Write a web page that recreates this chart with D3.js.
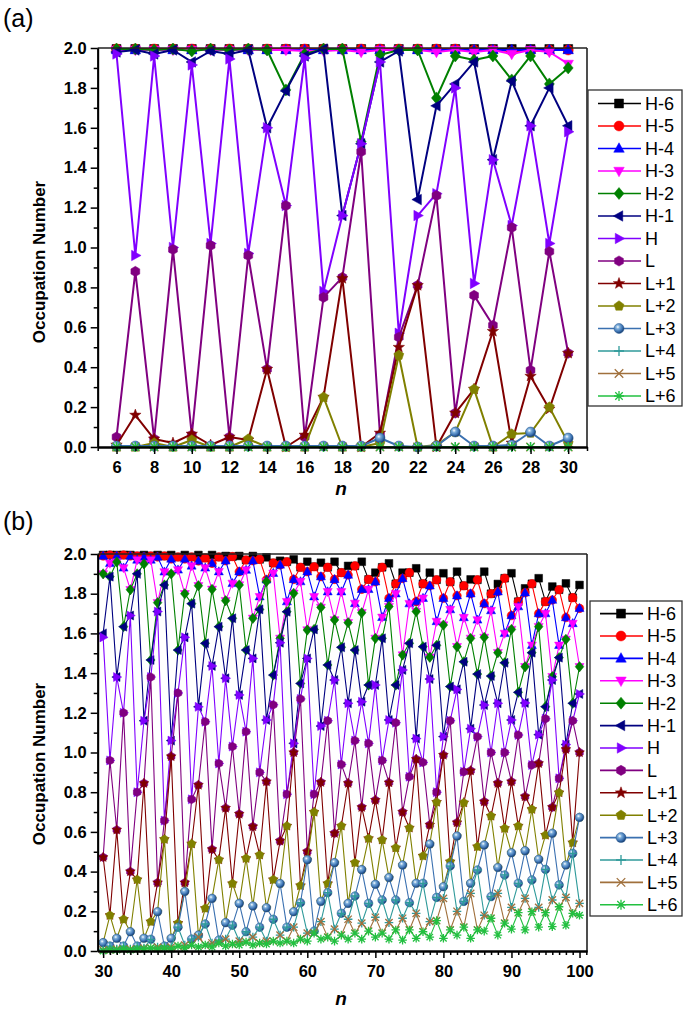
<!DOCTYPE html>
<html><head><meta charset="utf-8">
<script src="https://cdn.jsdelivr.net/npm/d3@7"></script>
<style>body{margin:0;background:#fff}svg text{font-family:Arial,"Liberation Sans",sans-serif}</style>
</head><body>
<script>
const seriesNames=["H-6","H-5","H-4","H-3","H-2","H-1","H","L","L+1","L+2","L+3","L+4","L+5","L+6"];
const seriesColors=["#000000","#ff0000","#0000ff","#ff00ff","#008000","#000080","#8000ff","#800080","#800000","#808000","#3a70b0","#2f9a9a","#a0703c","#22c040"];
const seriesShapes=["square","circle","triUp","triDown","diamond","triLeft","triRight","hexagon","star","pentagon","sphere","plus","cross","asterisk"];

// ---------- panel (a) ----------
const nA=[6,7,8,9,10,11,12,13,14,15,16,17,18,19,20,21,22,23,24,25,26,27,28,29,30];
const xTicksA=[6,8,10,12,14,16,18,20,22,24,26,28,30];
const yTicks=[0,0.2,0.4,0.6,0.8,1.0,1.2,1.4,1.6,1.8,2.0];
const a_H6=[1.995,1.995,1.995,1.995,1.995,1.995,1.995,1.995,1.995,1.995,1.995,1.995,1.995,1.995,1.995,1.995,1.995,1.995,1.995,1.995,1.995,1.995,1.995,1.995,1.995];
const a_H5=[1.995,1.995,1.995,1.995,1.995,1.995,1.995,1.995,1.995,1.995,1.995,1.995,1.995,1.995,1.995,1.995,1.995,1.995,1.995,1.99,1.99,1.985,1.985,1.99,1.99];
const a_H4=[1.99,1.99,1.99,1.99,1.99,1.99,1.99,1.99,1.99,1.99,1.99,1.99,1.99,1.99,1.99,1.99,1.99,1.99,1.99,1.99,1.99,1.99,1.99,1.99,1.99];
const a_H3=[1.99,1.99,1.99,1.99,1.99,1.99,1.99,1.99,1.99,1.99,1.985,1.985,1.99,1.98,1.99,1.99,1.99,1.98,1.99,1.98,1.99,1.97,1.99,1.98,1.92];
const a_H2=[1.995,1.995,1.99,1.995,1.985,1.995,1.99,1.995,1.99,1.79,1.97,1.995,1.995,1.53,1.965,1.99,1.99,1.75,1.96,1.94,1.96,1.84,1.96,1.82,1.90];
const a_H1=[1.98,1.99,1.97,1.99,1.93,1.985,1.97,1.99,1.60,1.785,1.96,1.995,1.16,1.52,1.93,1.985,1.24,1.71,1.82,1.93,1.44,1.835,1.61,1.80,1.61];
const a_H=[1.97,0.96,1.96,1.0,1.915,1.02,1.945,0.97,1.60,1.21,1.95,0.78,1.16,1.52,1.93,0.57,1.16,1.27,1.80,0.82,1.44,1.11,1.61,1.02,1.58];
const a_L=[0.05,0.88,0.04,0.99,0.06,1.01,0.05,0.96,0.39,1.21,0.05,0.75,0.85,1.48,0.06,0.55,0.81,1.26,0.17,0.76,0.61,1.10,0.385,0.98,0.47];
const a_L1=[0.01,0.16,0.04,0.02,0.065,0.01,0.05,0.035,0.39,0.0,0.06,0.25,0.845,0.0,0.07,0.50,0.81,0.0,0.17,0.29,0.58,0.02,0.355,0.19,0.47];
const a_L2=[0.0,0.0,0.02,0.0,0.035,0.0,0.0,0.04,0.0,0.0,0.0,0.25,0.0,0.0,0.02,0.46,0.0,0.01,0.075,0.29,0.0,0.065,0.07,0.20,0.02];
const a_L3=[0.005,0.005,0.005,0.005,0.005,0.005,0.005,0.005,0.005,0.005,0.005,0.005,0.005,0.005,0.045,0.005,0.0,0.005,0.075,0.005,0.005,0.01,0.075,0.005,0.045];
const a_L4=[0,0,0,0,0,0,0,0,0,0,0,0,0,0,0,0,0,0,0,0,0,0,0,0,0];
const a_L5=[0,0,0,0,0,0,0,0,0,0,0,0,0,0,0,0,0,0,0,0,0,0,0,0,0];
const a_L6=[0,0,0,0,0,0,0,0,0,0,0,0,0,0,0,0,0,0,0,0,0,0,0,0,0];

// ---------- panel (b) ----------
const nB=[30,31,32,33,34,35,36,37,38,39,40,41,42,43,44,45,46,47,48,49,50,51,52,53,54,55,56,57,58,59,60,61,62,63,64,65,66,67,68,69,70,71,72,73,74,75,76,77,78,79,80,81,82,83,84,85,86,87,88,89,90,91,92,93,94,95,96,97,98,99,100];
const xTicksB=[30,40,50,60,70,80,90,100];
const b_H6=[1.995,1.995,1.995,1.995,1.995,1.99,1.995,1.99,1.995,1.99,
1.995,1.985,1.995,1.985,1.995,1.98,1.995,1.985,1.99,1.987,
1.99,1.97,1.99,1.973,1.983,1.955,1.966,1.961,1.973,1.933,
1.961,1.936,1.956,1.933,1.961,1.906,1.94,1.94,1.961,1.872,
1.906,1.933,1.953,1.85,1.906,1.906,1.928,1.85,1.906,1.87,
1.903,1.86,1.911,1.84,1.872,1.87,1.911,1.80,1.849,1.878,
1.903,1.76,1.827,1.85,1.878,1.76,1.836,1.82,1.852,1.78,1.844];
const b_H5=[1.99,1.995,1.99,1.995,1.99,1.99,1.985,1.99,1.985,1.99,
1.975,1.985,1.975,1.985,1.965,1.98,1.953,1.985,1.966,1.987,
1.911,1.97,1.966,1.973,1.87,1.955,1.945,1.961,1.872,1.933,
1.911,1.936,1.886,1.933,1.872,1.906,1.894,1.94,1.822,1.872,
1.86,1.933,1.777,1.85,1.877,1.906,1.76,1.85,1.84,1.87,
1.777,1.86,1.79,1.84,1.80,1.87,1.75,1.80,1.81,1.878,
1.69,1.76,1.805,1.85,1.70,1.76,1.768,1.82,1.68,1.78,1.726];
const b_H4=[1.99,1.953,1.99,1.93,1.99,1.97,1.985,1.97,1.985,1.91,
1.975,1.92,1.975,1.94,1.965,1.93,1.953,1.911,1.966,1.852,
1.911,1.919,1.966,1.785,1.87,1.903,1.945,1.76,1.872,1.861,
1.911,1.785,1.886,1.81,1.872,1.81,1.894,1.751,1.822,1.822,
1.86,1.681,1.777,1.80,1.877,1.75,1.76,1.777,1.84,1.66,
1.777,1.72,1.79,1.68,1.80,1.668,1.75,1.715,1.81,1.60,
1.69,1.735,1.805,1.54,1.70,1.70,1.768,1.54,1.68,1.65,1.726];
const b_H3=[1.90,1.953,1.96,1.93,1.82,1.97,1.95,1.97,1.755,1.91,
1.90,1.92,1.80,1.94,1.84,1.93,1.822,1.911,1.765,1.852,
1.844,1.919,1.676,1.785,1.861,1.903,1.575,1.76,1.802,1.861,
1.617,1.785,1.731,1.81,1.668,1.81,1.654,1.751,1.704,1.822,
1.575,1.681,1.735,1.80,1.491,1.75,1.71,1.777,1.48,1.66,
1.642,1.72,1.533,1.68,1.575,1.668,1.58,1.715,1.503,1.60,
1.62,1.735,1.432,1.54,1.634,1.70,1.382,1.54,1.57,1.65,1.432];
const b_H2=[1.90,1.886,1.96,1.634,1.82,1.90,1.95,1.466,1.755,1.844,
1.90,1.516,1.80,1.75,1.84,1.55,1.822,1.634,1.765,1.676,
1.844,1.516,1.676,1.721,1.861,1.39,1.575,1.709,1.802,1.348,
1.617,1.62,1.731,1.441,1.668,1.53,1.654,1.516,1.704,1.34,
1.575,1.575,1.735,1.34,1.491,1.55,1.71,1.533,1.48,1.54,
1.642,1.332,1.533,1.457,1.575,1.395,1.58,1.385,1.503,1.452,
1.62,1.303,1.432,1.503,1.634,1.231,1.382,1.478,1.57,1.248,1.432];
const b_H1=[1.60,1.886,1.38,1.634,1.69,1.90,1.16,1.466,1.71,1.844,
1.06,1.516,1.58,1.75,1.23,1.55,1.436,1.634,1.374,1.676,
1.29,1.516,1.474,1.721,1.164,1.39,1.553,1.709,1.046,1.348,
1.474,1.62,1.133,1.441,1.365,1.53,1.248,1.516,1.256,1.34,
1.34,1.575,1.164,1.34,1.416,1.55,1.07,1.533,1.37,1.54,
1.08,1.332,1.318,1.457,1.12,1.395,1.239,1.385,1.248,1.452,
1.164,1.303,1.25,1.503,1.09,1.231,1.365,1.478,1.04,1.248,1.295];
const b_H=[1.58,0.96,1.38,1.20,1.69,0.80,1.16,1.38,1.71,0.657,
1.06,1.30,1.58,0.764,1.23,1.155,1.436,0.945,1.374,1.03,
1.29,1.105,1.474,0.90,1.164,1.24,1.553,0.79,1.046,1.27,
1.474,0.79,1.133,1.16,1.365,0.94,1.248,1.06,1.256,1.046,
1.34,0.96,1.164,1.15,1.416,0.878,1.07,0.95,1.37,0.80,
1.08,1.16,1.318,0.903,1.12,1.08,1.239,1.0,1.248,1.0,
1.164,1.088,1.25,0.937,1.09,1.17,1.365,0.87,1.04,1.16,1.295];
const b_L=[0.472,0.96,0.61,1.20,0.40,0.80,0.845,1.38,0.344,0.657,
0.98,1.30,0.344,0.764,0.836,1.155,0.512,0.945,0.72,1.03,
0.69,1.105,0.627,0.90,0.853,1.24,0.554,0.79,1.0,1.27,
0.50,0.79,0.85,1.16,0.593,0.94,0.845,1.06,0.724,1.046,
0.76,0.96,0.848,1.15,0.70,0.878,0.966,0.95,0.635,0.80,
0.987,1.16,0.647,0.903,0.908,1.08,0.752,1.0,0.845,1.0,
0.853,1.088,0.778,0.937,0.945,1.17,0.724,0.87,1.016,1.16,1.0];
const b_L1=[0.472,0.18,0.61,0.16,0.40,0.36,0.845,0.148,0.344,0.563,
0.98,0.14,0.344,0.54,0.836,0.215,0.512,0.46,0.72,0.34,
0.69,0.467,0.627,0.484,0.853,0.36,0.554,0.63,1.0,0.33,
0.50,0.70,0.85,0.34,0.593,0.63,0.845,0.445,0.724,0.567,
0.76,0.56,0.848,0.52,0.70,0.62,0.966,0.479,0.635,0.75,
0.987,0.45,0.647,0.747,0.908,0.526,0.752,0.68,0.845,0.618,
0.853,0.63,0.778,0.714,0.945,0.584,0.724,0.798,1.016,0.546,1.0];
const b_L2=[0.042,0.18,0.064,0.16,0.097,0.36,0.064,0.148,0.198,0.563,
0.064,0.14,0.30,0.54,0.08,0.215,0.265,0.46,0.143,0.34,
0.24,0.467,0.227,0.484,0.218,0.36,0.34,0.63,0.198,0.33,
0.46,0.70,0.25,0.34,0.445,0.63,0.24,0.445,0.41,0.567,
0.336,0.56,0.37,0.52,0.433,0.62,0.341,0.479,0.539,0.75,
0.324,0.45,0.579,0.747,0.341,0.526,0.534,0.68,0.421,0.618,
0.495,0.63,0.505,0.714,0.462,0.584,0.593,0.798,0.433,0.546,0.673];
const b_L3=[0.042,0.025,0.064,0.025,0.097,0.025,0.064,0.059,0.198,0.025,
0.064,0.12,0.30,0.06,0.08,0.136,0.265,0.055,0.143,0.13,
0.24,0.097,0.227,0.12,0.218,0.16,0.34,0.12,0.198,0.243,
0.46,0.10,0.25,0.294,0.445,0.19,0.24,0.277,0.41,0.24,
0.336,0.257,0.37,0.257,0.433,0.243,0.341,0.341,0.539,0.27,
0.324,0.428,0.579,0.25,0.341,0.408,0.534,0.274,0.421,0.383,
0.495,0.341,0.505,0.358,0.462,0.411,0.593,0.333,0.433,0.492,0.673];
const b_L4=[0.005,0.025,0.01,0.025,0.01,0.025,0.015,0.059,0.02,0.025,
0.02,0.12,0.03,0.06,0.07,0.136,0.04,0.055,0.06,0.13,
0.05,0.097,0.07,0.12,0.05,0.16,0.08,0.12,0.12,0.243,
0.09,0.10,0.148,0.294,0.11,0.19,0.16,0.277,0.14,0.24,
0.17,0.257,0.143,0.257,0.165,0.243,0.19,0.341,0.148,0.27,
0.265,0.428,0.20,0.25,0.29,0.408,0.18,0.274,0.29,0.383,
0.22,0.341,0.265,0.358,0.22,0.411,0.257,0.333,0.27,0.492,0.24];
const b_L5=[0.005,0.005,0.01,0.01,0.01,0.01,0.015,0.015,0.02,0.015,
0.02,0.025,0.03,0.03,0.07,0.03,0.04,0.04,0.06,0.035,
0.05,0.045,0.07,0.04,0.05,0.05,0.08,0.05,0.12,0.06,
0.09,0.09,0.148,0.07,0.11,0.08,0.16,0.09,0.14,0.10,
0.17,0.09,0.143,0.106,0.165,0.106,0.19,0.097,0.148,0.153,
0.265,0.106,0.20,0.12,0.29,0.106,0.18,0.165,0.29,0.14,
0.22,0.193,0.265,0.198,0.22,0.193,0.257,0.223,0.27,0.19,0.24];
const b_L6=[0.0,0.005,0.005,0.01,0.005,0.01,0.01,0.015,0.01,0.015,
0.01,0.025,0.015,0.03,0.02,0.03,0.02,0.04,0.025,0.035,
0.03,0.045,0.03,0.04,0.035,0.05,0.04,0.05,0.04,0.06,
0.05,0.09,0.06,0.07,0.05,0.08,0.06,0.09,0.06,0.10,
0.07,0.09,0.06,0.106,0.055,0.106,0.064,0.097,0.07,0.153,
0.064,0.106,0.08,0.12,0.064,0.106,0.10,0.165,0.08,0.14,
0.11,0.193,0.106,0.198,0.12,0.193,0.123,0.223,0.13,0.19,0.18];

const seriesA=[a_H6,a_H5,a_H4,a_H3,a_H2,a_H1,a_H,a_L,a_L1,a_L2,a_L3,a_L4,a_L5,a_L6];
const seriesB=[b_H6,b_H5,b_H4,b_H3,b_H2,b_H1,b_H,b_L,b_L1,b_L2,b_L3,b_L4,b_L5,b_L6];

const W=685,H=1012;
const svg=d3.select("body").append("svg").attr("width",W).attr("height",H);
const defs=svg.append("defs");
const g0=defs.append("radialGradient").attr("id","sph").attr("cx","38%").attr("cy","35%").attr("r","62%");
g0.append("stop").attr("offset","0%").attr("stop-color","#ffffff");
g0.append("stop").attr("offset","30%").attr("stop-color","#7fb0dc");
g0.append("stop").attr("offset","75%").attr("stop-color","#3a70b0");
g0.append("stop").attr("offset","100%").attr("stop-color","#1c4478");

function poly(pts){return "M"+pts.map(p=>p[0].toFixed(2)+","+p[1].toFixed(2)).join("L")+"Z";}
function shapePath(t,r){
  switch(t){
    case "square": return poly([[-r*0.9,-r*0.9],[r*0.9,-r*0.9],[r*0.9,r*0.9],[-r*0.9,r*0.9]]);
    case "circle": case "sphere": return `M${r},0A${r},${r} 0 1,1 ${-r},0A${r},${r} 0 1,1 ${r},0Z`;
    case "triUp": return poly([[0,-r*1.15],[r*1.05,r*0.75],[-r*1.05,r*0.75]]);
    case "triDown": return poly([[0,r*1.15],[r*1.05,-r*0.75],[-r*1.05,-r*0.75]]);
    case "triLeft": return poly([[-r*1.15,0],[r*0.75,-r*1.05],[r*0.75,r*1.05]]);
    case "triRight": return poly([[r*1.15,0],[-r*0.75,-r*1.05],[-r*0.75,r*1.05]]);
    case "diamond": return poly([[0,-r*1.2],[r*1.0,0],[0,r*1.2],[-r*1.0,0]]);
    case "hexagon": { const p=[]; for(let i=0;i<6;i++){const a=Math.PI/6+i*Math.PI/3;p.push([r*1.02*Math.cos(a),r*1.02*Math.sin(a)]);} return poly(p);}
    case "pentagon": { const p=[]; for(let i=0;i<5;i++){const a=-Math.PI/2+i*2*Math.PI/5;p.push([r*1.05*Math.cos(a),r*1.05*Math.sin(a)]);} return poly(p);}
    case "star": { const p=[]; for(let i=0;i<10;i++){const a=-Math.PI/2+i*Math.PI/5;const rr=i%2?r*0.5:r*1.2;p.push([rr*Math.cos(a),rr*Math.sin(a)]);} return poly(p);}
    case "plus": return `M0,${-r}V${r}M${-r},0H${r}`;
    case "cross": return `M${-r*0.85},${-r*0.85}L${r*0.85},${r*0.85}M${-r*0.85},${r*0.85}L${r*0.85},${-r*0.85}`;
    case "asterisk": return `M0,${-r}V${r}M${-r},0H${r}M${-r*0.75},${-r*0.75}L${r*0.75},${r*0.75}M${-r*0.75},${r*0.75}L${r*0.75},${-r*0.75}`;
  }
}
const strokeOnly=new Set(["plus","cross","asterisk"]);
function drawMarker(g,t,color,x,y,r){
  const p=g.append("path").attr("d",shapePath(t,r)).attr("transform",`translate(${x},${y})`);
  if(strokeOnly.has(t)) p.attr("fill","none").attr("stroke",color).attr("stroke-width",1.3);
  else if(t==="sphere") p.attr("fill","url(#sph)").attr("stroke","#2a5a90").attr("stroke-width",0.5);
  else p.attr("fill",color).attr("stroke",color).attr("stroke-width",0.5);
}

function panel(cfg){
  const g=svg.append("g");
  const x=d3.scaleLinear().domain(cfg.xDomain).range([cfg.left,cfg.right]);
  const y=d3.scaleLinear().domain([0,2]).range([cfg.bottom,cfg.top]);
  const clip=g.append("g");
  cfg.series.forEach((vals,si)=>{
    const col=seriesColors[si];
    const line=d3.line().x((d,i)=>x(cfg.n[i])).y(d=>y(d));
    clip.append("path").datum(vals).attr("d",line).attr("fill","none").attr("stroke",col).attr("stroke-width",cfg.lw).attr("stroke-linejoin","round");
    const mg=clip.append("g");
    vals.forEach((v,i)=>drawMarker(mg,seriesShapes[si],col,x(cfg.n[i]),y(v),cfg.mr));
  });
  g.append("line").attr("x1",cfg.left).attr("x2",cfg.right).attr("y1",cfg.top).attr("y2",cfg.top).attr("stroke","#222").attr("stroke-width",1.6);
  g.append("line").attr("x1",cfg.right).attr("x2",cfg.right).attr("y1",cfg.top).attr("y2",cfg.bottom).attr("stroke","#222").attr("stroke-width",1.6);
  const xa=g.append("g").attr("transform",`translate(0,${cfg.bottom})`)
    .call(d3.axisBottom(x).tickValues(cfg.xTicks).tickSize(7).tickSizeOuter(0).tickPadding(5).tickFormat(d3.format("d")));
  const xm=g.append("g").attr("transform",`translate(0,${cfg.bottom})`)
    .call(d3.axisBottom(x).tickValues(cfg.xMinor).tickSize(4).tickSizeOuter(0).tickFormat(""));
  const ya=g.append("g").attr("transform",`translate(${cfg.left},0)`)
    .call(d3.axisLeft(y).tickValues(yTicks).tickSize(7).tickSizeOuter(0).tickPadding(4).tickFormat(d3.format(".1f")));
  const ym=g.append("g").attr("transform",`translate(${cfg.left},0)`)
    .call(d3.axisLeft(y).tickValues([0.1,0.3,0.5,0.7,0.9,1.1,1.3,1.5,1.7,1.9]).tickSize(4).tickSizeOuter(0).tickFormat(""));
  [xa,xm,ya,ym].forEach(a=>{a.selectAll("path").attr("stroke","#000").attr("stroke-width",1.8);a.selectAll("line").attr("stroke","#000").attr("stroke-width",1.5);
    a.selectAll("text").attr("fill","#000").style("font-size","16.5px").style("font-weight","bold");});
  xa.selectAll("text").attr("dy","0.85em");
  g.append("text").attr("transform",`translate(${cfg.ytX},${cfg.ytY}) rotate(-90)`).attr("text-anchor","middle")
    .style("font-size","17px").style("font-weight","bold").text("Occupation Number");
  g.append("text").attr("x",341).attr("y",cfg.nY).attr("text-anchor","middle").style("font-size","19px").style("font-weight","bold").style("font-style","italic").text("n");
  g.append("text").attr("x",3).attr("y",cfg.labY).style("font-size","25px").text(cfg.label);
  const lg=svg.append("g");
  lg.append("rect").attr("x",cfg.lgX).attr("y",cfg.lgTop).attr("width",cfg.lgW).attr("height",cfg.lgH).attr("fill","#fff").attr("stroke","#333").attr("stroke-width",1.3);
  seriesNames.forEach((nm,i)=>{
    const yy=cfg.lgY0+i*cfg.lgDy;
    lg.append("line").attr("x1",cfg.lgX+10).attr("x2",cfg.lgX+53).attr("y1",yy).attr("y2",yy).attr("stroke",seriesColors[i]).attr("stroke-width",1.6);
    drawMarker(lg,seriesShapes[i],seriesColors[i],cfg.lgX+31,yy,5);
    lg.append("text").attr("x",cfg.lgX+57).attr("y",yy).attr("dy","0.36em").style("font-size","18px").text(nm);
  });
}
const minorA=[5,7,9,11,13,15,17,19,21,23,25,27,29,31];
const minorB=[31,32,33,34,35,36,37,38,39,41,42,43,44,45,46,47,48,49,51,52,53,54,55,56,57,58,59,61,62,63,64,65,66,67,68,69,71,72,73,74,75,76,77,78,79,81,82,83,84,85,86,87,88,89,91,92,93,94,95,96,97,98,99,101];
panel({n:nA,series:seriesA,xDomain:[5,31],left:97.7,right:587,top:48,bottom:447,xTicks:xTicksA,xMinor:minorA,lw:2,mr:5,
  ytX:45,ytY:262,nY:495,labY:27,label:"(a)",lgX:588,lgTop:90,lgW:94,lgH:316,lgY0:103.5,lgDy:22.5});
panel({n:nB,series:seriesB,xDomain:[29.2,101.1],left:97.7,right:587,top:554,bottom:951,xTicks:xTicksB,xMinor:minorB,lw:1.1,mr:4.3,
  ytX:45,ytY:764,nY:1005,labY:530,label:"(b)",lgX:590,lgTop:601,lgW:92,lgH:315,lgY0:613.6,lgDy:22.4});
</script>
</body></html>
